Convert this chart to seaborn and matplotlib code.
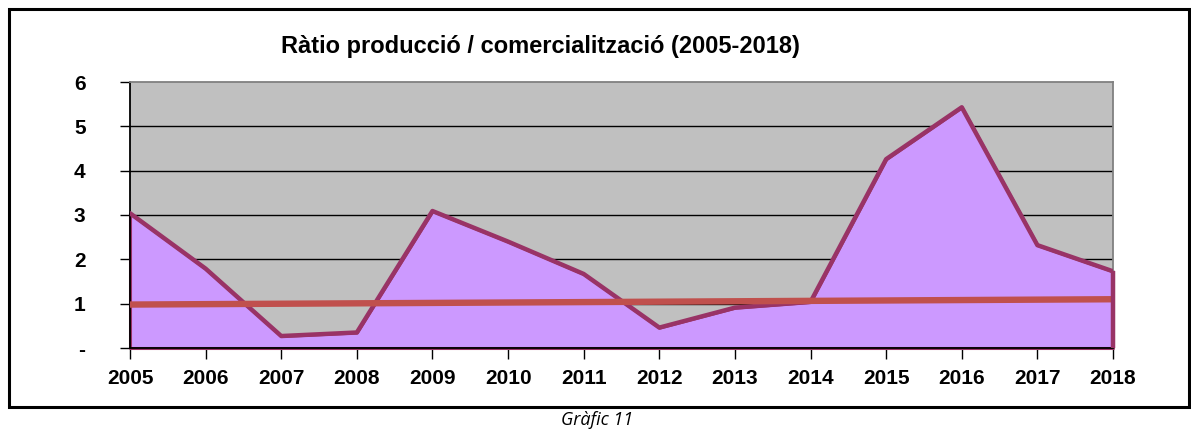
import matplotlib

matplotlib.use("Agg")
import matplotlib.pyplot as plt
import pandas as pd
import seaborn as sns
from matplotlib.patches import Rectangle

# values
years = [2005, 2006, 2007, 2008, 2009, 2010, 2011, 2012, 2013, 2014, 2015, 2016, 2017, 2018]
ratio = [3.04, 1.79, 0.27, 0.35, 3.09, 2.40, 1.67, 0.46, 0.91, 1.04, 4.26, 5.43, 2.32, 1.73]
trend_years = [2005, 2018]
trend_values = [0.98, 1.10]
y_ticks = [0, 1, 2, 3, 4, 5, 6]
y_tick_labels = ["-", "1", "2", "3", "4", "5", "6"]

title = "Ràtio producció / comercialització (2005-2018)"
caption = "Gràfic 11"

sns.set_style("white")
plt.rcParams["font.family"] = ["Liberation Sans", "DejaVu Sans"]
plt.rcParams["text.color"] = "black"
plt.rcParams["xtick.color"] = "black"
plt.rcParams["ytick.color"] = "black"

df = pd.DataFrame({"year": years, "ratio": ratio})
trend_df = pd.DataFrame({"year": trend_years, "value": trend_values})

fig = plt.figure(figsize=(11.91, 4.32), dpi=100)
ax = fig.add_axes([130 / 1191, 1 - 348 / 432, 983 / 1191, 266 / 432])
ax.set_facecolor("#C0C0C0")

# area fill with its outline
ax.fill_between(df["year"], 0, df["ratio"], facecolor="#CC99FF",
                edgecolor="#993366", linewidth=2.2, zorder=2, clip_on=False)
sns.lineplot(data=df, x="year", y="ratio", color="#993366", linewidth=3.2,
             ax=ax, zorder=3)
# closing edge of the area on the right-hand side
ax.vlines(df["year"].iloc[-1], 0, df["ratio"].iloc[-1], color="#993366",
          linewidth=3.2, zorder=5, clip_on=False)
sns.lineplot(data=trend_df, x="year", y="value", color="#C0504D", linewidth=4.6,
             ax=ax, zorder=4)

for y in y_ticks[1:-1]:
    ax.axhline(y, color="black", linewidth=1.0, zorder=1)

ax.set_xlim(years[0], years[-1])
ax.set_ylim(0, 6)
ax.set_xticks(years)
ax.set_xticklabels([str(y) for y in years], fontsize=15, fontweight="bold")
ax.set_yticks(y_ticks)
ax.set_yticklabels(y_tick_labels, fontsize=15, fontweight="bold")
ax.set_xlabel("")
ax.set_ylabel("")
ax.tick_params(axis="x", direction="out", length=8, width=1, colors="black", pad=7)
ax.tick_params(axis="y", direction="out", length=7, width=1, colors="black", pad=25)
ax.yaxis.set_tick_params(left=True)
ax.xaxis.set_tick_params(bottom=True)

for side in ["left", "bottom"]:
    ax.spines[side].set_color("black")
    ax.spines[side].set_linewidth(1.3)
for side in ["top", "right"]:
    ax.spines[side].set_visible(True)
    ax.spines[side].set_color("#808080")
    ax.spines[side].set_linewidth(1.3)

fig.text(540 / 1191, 1 - 47 / 432, title, ha="center", va="center",
         fontsize=17, fontweight="bold", color="black")
fig.text(597 / 1191, 1 - 420 / 432, caption, ha="center", va="center",
         fontsize=13, style="italic", color="black",
         family=["Open Sans", "DejaVu Sans"])

# outer chart frame
frame = Rectangle((9 / 1191, 1 - 407 / 432), 1180 / 1191, 398 / 432,
                  transform=fig.transFigure, fill=False, edgecolor="black",
                  linewidth=2.2)
fig.patches.append(frame)

fig.savefig("out.png", dpi=100, facecolor="white")
